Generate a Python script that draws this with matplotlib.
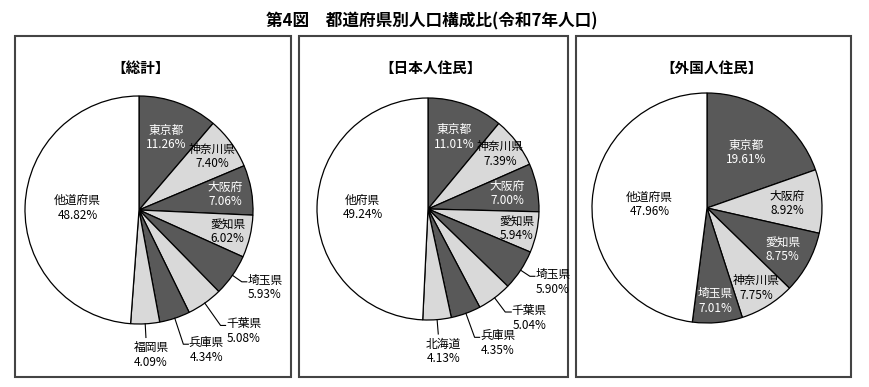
import numpy as np
import matplotlib
matplotlib.use("Agg")
from matplotlib import pyplot as plt
from matplotlib.patches import Rectangle

plt.rcParams['font.family'] = ['Noto Sans CJK JP', 'DejaVu Sans']

# data
title = "第4図　都道府県別人口構成比(令和7年人口)"

total_names = ["東京都", "神奈川県", "大阪府", "愛知県", "埼玉県", "千葉県", "兵庫県", "福岡県", "他道府県"]
total_values = [11.26, 7.40, 7.06, 6.02, 5.93, 5.08, 4.34, 4.09, 48.82]

japanese_names = ["東京都", "神奈川県", "大阪府", "愛知県", "埼玉県", "千葉県", "兵庫県", "北海道", "他府県"]
japanese_values = [11.01, 7.39, 7.00, 5.94, 5.90, 5.04, 4.35, 4.13, 49.24]

foreign_names = ["東京都", "大阪府", "愛知県", "神奈川県", "埼玉県", "他道府県"]
foreign_values = [19.61, 8.92, 8.75, 7.75, 7.01, 47.96]

panel_titles = ["【総計】", "【日本人住民】", "【外国人住民】"]

DARK = "#595959"
LIGHT = "#d9d9d9"
W, H = 870, 387

# layout (image pixel coords, y measured from top)
boxes = [(15, 36, 291, 377), (299, 36, 568, 377), (576, 36, 851, 377)]
centers = [(139, 210), (428, 209), (707, 208)]
radii = [114, 111, 115]
title_xy = [(141, 68), (431, 68), (712, 68)]

# label placement: ('in', r) / ('side', elbow_r, hook) / ('below', elbow_r)
total_lab = [('in', 0.68), ('in', 0.80), ('in', 0.77), ('in', 0.80),
             ('side', 1.10, 5), ('side', 1.24, 5), ('side', 1.24, 5),
             ('below', 1.12), ('in', 0.54)]
japanese_lab = [('in', 0.69), ('in', 0.82), ('in', 0.73), ('in', 0.82),
                ('side', 1.10, 5), ('side', 1.16, 6), ('side', 1.23, 5),
                ('below', 1.13), ('in', 0.59)]
foreign_lab = [('in', 0.59), ('in', 0.70), ('in', 0.75), ('in', 0.82),
               ('in', 0.81), ('in', 0.50)]

panels = [(total_names, total_values, total_lab),
          (japanese_names, japanese_values, japanese_lab),
          (foreign_names, foreign_values, foreign_lab)]

fig = plt.figure(figsize=(8.7, 3.87), dpi=100)
ax = fig.add_axes([0, 0, 1, 1])

FS = 8.5
GAP = 7.3  # half distance between name line and percent line


def Y(y):
    return H - y


for i, (names, values, labs) in enumerate(panels):
    x0, y0, x1, y1 = boxes[i]
    ax.add_patch(Rectangle((x0, Y(y1)), x1 - x0, y1 - y0, fill=False,
                           edgecolor="#444444", linewidth=1.5, zorder=0))
    tx, ty = title_xy[i]
    ax.text(tx, Y(ty), panel_titles[i], ha='center', va='center',
            fontsize=10.5, fontweight='bold')

    n = len(values)
    colors = [DARK if k % 2 == 0 else LIGHT for k in range(n - 1)] + ["white"]
    cx, cy = centers[i]
    r = radii[i]
    wedges, _ = ax.pie(values, colors=colors, startangle=90, counterclock=False,
                       center=(cx, Y(cy)), radius=r,
                       wedgeprops=dict(edgecolor="black", linewidth=0.9))

    for k, w in enumerate(wedges):
        mid = np.deg2rad((w.theta1 + w.theta2) / 2)
        ux, uy = np.cos(mid), np.sin(mid)
        name = names[k]
        pct = f"{values[k]:.2f}%"
        spec = labs[k]
        if spec[0] == 'in':
            px, py = cx + r * spec[1] * ux, Y(cy) + r * spec[1] * uy
            col = "white" if colors[k] == DARK else "black"
            ax.text(px, py + GAP, name, ha='center', va='center', fontsize=FS, color=col)
            ax.text(px, py - GAP, pct, ha='center', va='center', fontsize=FS, color=col)
        elif spec[0] == 'side':
            ex, ey = cx + r * ux, Y(cy) + r * uy
            bx, by = cx + r * spec[1] * ux, Y(cy) + r * spec[1] * uy
            hx = bx + spec[2]
            ax.plot([ex, bx, hx], [ey, by, by], color="black", linewidth=0.8)
            tcx = hx + 18
            ax.text(tcx, by + 1.5, name, ha='center', va='center', fontsize=FS)
            ax.text(tcx, by + 1.5 - 2 * GAP, pct, ha='center', va='center', fontsize=FS)
        else:
            ex, ey = cx + r * ux, Y(cy) + r * uy
            bx, by = cx + r * spec[1] * ux, Y(cy) + r * spec[1] * uy
            ax.plot([ex, bx], [ey, by], color="black", linewidth=0.8)
            ax.text(bx + 5, by - 10, name, ha='center', va='center', fontsize=FS)
            ax.text(bx + 5, by - 10 - 2 * GAP, pct, ha='center', va='center', fontsize=FS)

ax.text(432, Y(21), title, ha='center', va='center', fontsize=12, fontweight='bold')

ax.set_xlim(0, W)
ax.set_ylim(0, H)
ax.set_aspect('equal')
ax.axis('off')

fig.savefig("out.png", dpi=100, facecolor="white")
